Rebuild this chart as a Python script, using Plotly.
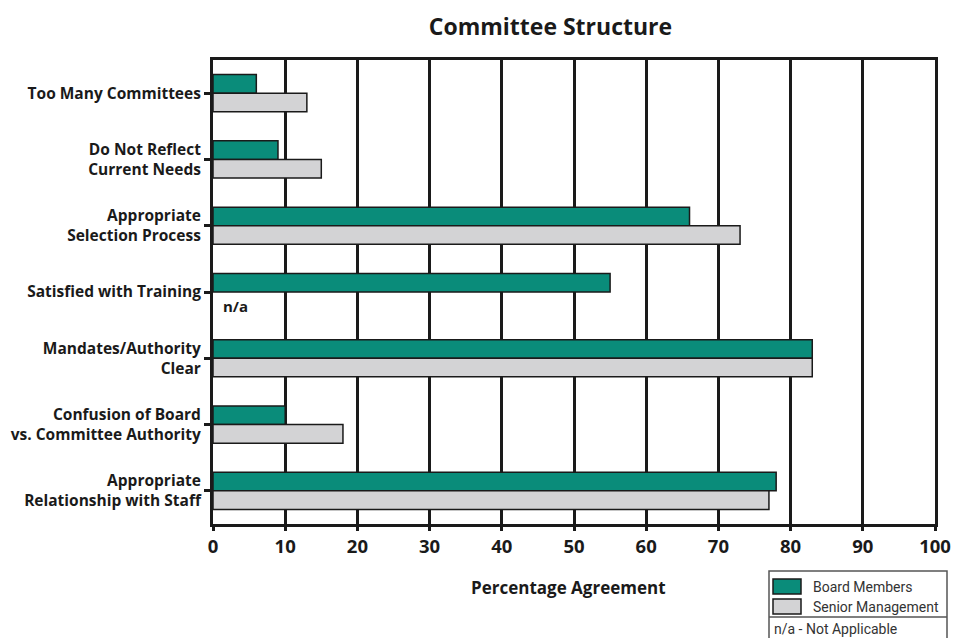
import plotly.graph_objects as go

# Survey items (top to bottom) and percentage agreement per respondent group
categories = [
    "Too Many Committees",
    "Do Not Reflect<br>Current Needs",
    "Appropriate<br>Selection Process",
    "Satisfied with Training",
    "Mandates/Authority<br>Clear",
    "Confusion of Board<br>vs. Committee Authority",
    "Appropriate<br>Relationship with Staff",
]
board_members = [6, 9, 66, 55, 83, 10, 78]
senior_management = [13, 15, 73, None, 83, 18, 77]
x_ticks = [0, 10, 20, 30, 40, 50, 60, 70, 80, 90, 100]

TEAL = "#0a8c7a"
GREY = "#d3d3d5"
INK = "#1a1a1a"
BOLD = "Open Sans"

fig = go.Figure()
fig.add_trace(go.Bar(
    name="Board Members", y=categories, x=board_members, orientation="h",
    marker=dict(color=TEAL, line=dict(color=INK, width=1.5)), showlegend=False,
))
fig.add_trace(go.Bar(
    name="Senior Management", y=categories, x=senior_management, orientation="h",
    marker=dict(color=GREY, line=dict(color=INK, width=1.5)), showlegend=False,
))

# Senior management was not asked about training
fig.add_annotation(
    x=0, y=categories[3], xref="x", yref="y", text="<b>n/a</b>", showarrow=False,
    xanchor="left", yanchor="middle", xshift=8, yshift=-14,
    font=dict(family=BOLD, size=15, color=INK),
)

fig.update_layout(
    width=954, height=638,
    margin=dict(l=213, r=19, t=60, b=114, autoexpand=False),
    paper_bgcolor="white", plot_bgcolor="white",
    barmode="group", bargap=0.44, bargroupgap=0,
    title=dict(
        text="<b>Committee Structure</b>", x=0.577, xanchor="center",
        y=0.957, yanchor="middle",
        font=dict(family=BOLD, size=23, color=INK),
    ),
    xaxis=dict(
        range=[0, 100], tickvals=x_ticks, ticktext=[f"<b>{v}</b>" for v in x_ticks],
        showgrid=True, gridcolor=INK, gridwidth=3,
        showline=True, linecolor=INK, linewidth=3, mirror=True,
        ticks="outside", ticklen=4, tickwidth=3, tickcolor=INK,
        tickfont=dict(family=BOLD, size=18.5, color=INK),
        zeroline=False, fixedrange=True, automargin=False,
    ),
    yaxis=dict(
        range=[6.5, -0.5], showgrid=False,
        showline=True, linecolor=INK, linewidth=3, mirror=True,
        ticks="outside", ticklen=6, tickwidth=3, tickcolor=INK,
        tickfont=dict(family=BOLD, size=15.5, color=INK),
        ticklabelstandoff=0, automargin=False,
        fixedrange=True,
    ),
)
fig.update_yaxes(tickmode="array", tickvals=categories,
                 ticktext=[f"<b>{c}</b>" for c in categories])


# Pixel helpers for paper-anchored decorations
def px_x(p):
    return (p - 213) / 722


def px_y(p):
    return (524 - p) / 464


# Axis title
fig.add_annotation(
    x=px_x(568), y=px_y(587), xref="paper", yref="paper",
    text="<b>Percentage Agreement</b>", showarrow=False,
    xanchor="center", yanchor="middle",
    font=dict(family=BOLD, size=17, color=INK),
)

# Key box with swatches and the n/a note
fig.add_shape(type="rect", xref="paper", yref="paper",
              x0=px_x(769), x1=px_x(947), y0=px_y(640), y1=px_y(571),
              line=dict(color="#555", width=1.5), fillcolor="white")
fig.add_shape(type="line", xref="paper", yref="paper",
              x0=px_x(769), x1=px_x(947), y0=px_y(617), y1=px_y(617),
              line=dict(color="#555", width=1.5))
for i, (label, colour) in enumerate([("Board Members", TEAL), ("Senior Management", GREY)]):
    top = 579 + i * 20
    fig.add_shape(type="rect", xref="paper", yref="paper",
                  x0=px_x(773), x1=px_x(801), y0=px_y(top + 15), y1=px_y(top),
                  line=dict(color=INK, width=1.5), fillcolor=colour)
    fig.add_annotation(x=px_x(811), y=px_y(top + 7.5), xref="paper", yref="paper",
                       text=label, showarrow=False, xanchor="left", yanchor="middle",
                       font=dict(family="Roboto", size=14, color="#333"))
fig.add_annotation(x=px_x(772), y=px_y(629), xref="paper", yref="paper",
                   text="n/a - Not Applicable", showarrow=False, xanchor="left",
                   yanchor="middle", font=dict(family="Roboto", size=14, color="#333"))

fig.write_html("out.html")
